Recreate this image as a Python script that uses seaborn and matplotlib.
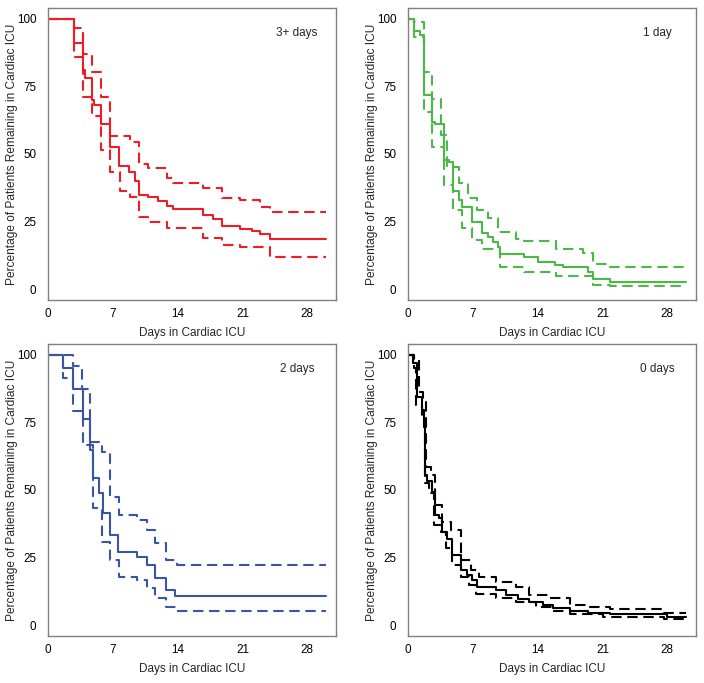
import numpy as np
import pandas as pd
import matplotlib
matplotlib.use("Agg")
import matplotlib.pyplot as plt
import seaborn as sns

# ---------------- data (days, % remaining) ----------------
p1_t_main = [0, 2.85, 3.82, 4.0, 4.72, 5.0, 5.73, 6.7, 7.68, 8.79, 9.41, 9.87, 10.85, 11.86, 12.83, 13.55, 16.79, 17.87, 18.77, 20.76, 22.02, 22.92, 23.93, 30]
p1_v_main = [100, 91, 81, 78, 70, 68, 61, 52.6, 45.5, 43.5, 40, 35, 34, 32.7, 30.9, 29.6, 27.4, 25.9, 23.5, 22.3, 21.6, 20.4, 18.4, 18.4]
p1_t_up = [0, 2.85, 3.82, 4.72, 5.73, 6.7, 8.86, 9.87, 10.85, 12.83, 13.55, 16.79, 18.77, 20.76, 22.92, 23.93, 30]
p1_v_up = [100, 96.8, 87, 80.5, 71, 56.7, 54.6, 46.3, 44.7, 41, 39.4, 37.3, 33.8, 33, 30.5, 28.4, 28.4]
p1_t_lo = [0, 2.85, 3.82, 4.72, 5.73, 6.7, 7.78, 8.86, 9.87, 10.85, 12.83, 16.79, 18.77, 20.76, 23.93, 30]
p1_v_lo = [100, 86, 71, 64, 51.5, 43.5, 36.4, 34, 26.8, 25, 22.5, 19, 16.3, 15.4, 12, 12]

p2_t_main = [0, 0.62, 1.34, 1.7, 2.54, 2.9, 3.88, 4.42, 4.86, 5.51, 5.87, 6.96, 7.97, 8.59, 9.13, 9.67, 9.93, 12.57, 14.02, 15.83, 16.74, 19.46, 20.0, 21.81, 30]
p2_v_main = [100, 95.7, 94, 71.9, 62, 61, 47.8, 47, 36.4, 33, 30.2, 25, 20.9, 19.4, 17.5, 15.7, 13, 11.7, 10.1, 8.9, 8.3, 6.4, 3.6, 2.7, 2.7]
p2_t_up = [0, 0.62, 1.7, 2.61, 3.51, 4.24, 5.51, 6.52, 7.5, 8.59, 9.67, 11.67, 12.57, 16.0, 18.9, 20.0, 21.81, 30]
p2_v_up = [100, 99, 80.5, 70.4, 57, 45.3, 39.1, 33.6, 29.3, 26.2, 21, 18.4, 17.9, 15, 13.2, 9.3, 8, 8]
p2_t_lo = [0, 0.62, 1.7, 2.54, 3.88, 4.86, 5.87, 6.96, 7.97, 9.93, 12.57, 16.0, 20.0, 21.81, 30]
p2_v_lo = [100, 93.5, 65.7, 52.7, 38.5, 29.3, 22.5, 18.1, 15, 8.3, 6.4, 4.8, 1.5, 1.1, 1.1]

p3_t_main = [0, 1.66, 2.67, 3.82, 4.54, 4.9, 5.55, 5.91, 6.7, 7.6, 9.59, 10.67, 11.57, 12.76, 13.73, 30]
p3_v_main = [100, 95.3, 87.3, 76.3, 64.8, 54.3, 48.8, 41.4, 33.3, 27.2, 25.3, 22.2, 17.5, 13, 10.9, 10.9]
p3_t_up = [0, 2.67, 3.64, 4.54, 5.8, 6.7, 7.71, 9.59, 10.67, 11.57, 12.76, 13.9, 30]
p3_v_up = [100, 96, 87.3, 67.9, 64.2, 47.5, 40.7, 38.9, 35.2, 30.2, 24.1, 22.2, 22.2]
p3_t_lo = [0, 1.66, 2.67, 3.82, 4.9, 5.8, 6.7, 7.71, 9.59, 10.67, 11.57, 12.76, 13.9, 30]
p3_v_lo = [100, 91.4, 79.4, 66.7, 43.2, 30.9, 24.1, 17.9, 16.7, 13.6, 9.9, 6.8, 5.3, 5.3]

p4_t_main = [0, 0.51, 0.98, 1.52, 1.7, 1.88, 2.07, 2.61, 2.9, 3.33, 3.7, 4.24, 4.78, 5.69, 6.41, 6.96, 7.5, 9.49, 10.58, 11.85, 13.12, 14.57, 15.65, 17.46, 19.46, 21.81, 27.97, 30]
p4_v_main = [100, 96.9, 84.6, 79.6, 73.5, 55.4, 53.5, 49.4, 40.7, 39.5, 34.6, 32, 25.9, 20.4, 18.5, 16.5, 14.2, 13, 11.1, 9.5, 8.6, 7.4, 6.2, 5.3, 4.6, 4.1, 3.1, 3.1]
p4_t_up = [0, 0.62, 1.16, 1.59, 1.96, 2.43, 2.9, 3.7, 4.6, 5.69, 6.78, 7.68, 9.49, 11.67, 13.12, 15.29, 17.46, 19.46, 21.81, 27.6, 30]
p4_v_up = [100, 98.4, 86.4, 82.7, 58.6, 55.5, 44.4, 38.3, 35.2, 24, 20.4, 17.9, 16, 14.2, 11.1, 9.9, 7.4, 6.8, 5.8, 4.5, 4.5]
p4_t_lo = [0, 0.62, 0.87, 1.52, 1.81, 2.25, 2.79, 3.51, 4.06, 4.78, 5.69, 6.59, 7.32, 9.49, 11.67, 13.84, 15.65, 17.46, 21.09, 27.6, 30]
p4_v_lo = [100, 95, 81.5, 75.9, 52.5, 48.8, 37, 34.6, 28.4, 22.2, 17.7, 14.8, 11.5, 9.9, 8.6, 6.8, 5.3, 4.1, 3.1, 2.1, 2.1]

panel_labels = ["3+ days", "1 day", "2 days", "0 days"]
panel_colors = ["#ee1c24", "#4cb848", "#3a55a6", "#000000"]
x_ticks = [0, 7, 14, 21, 28]
y_ticks = [0, 25, 50, 75, 100]
x_label = "Days in Cardiac ICU"
y_label = "Percentage of Patients Remaining in Cardiac ICU"

panels = [
    (p1_t_main, p1_v_main, p1_t_up, p1_v_up, p1_t_lo, p1_v_lo),
    (p2_t_main, p2_v_main, p2_t_up, p2_v_up, p2_t_lo, p2_v_lo),
    (p3_t_main, p3_v_main, p3_t_up, p3_v_up, p3_t_lo, p3_v_lo),
    (p4_t_main, p4_v_main, p4_t_up, p4_v_up, p4_t_lo, p4_v_lo),
]

# ---------------- figure ----------------
sns.set_style("white")
plt.rcParams["font.family"] = ["Liberation Sans", "DejaVu Sans"]

W, H = 704, 683
fig = plt.figure(figsize=(W / 100, H / 100), dpi=100)

# pixel boxes: left, top, right, bottom
boxes = [(48, 8, 336, 300), (408, 8, 696, 300), (48, 344, 336, 636), (408, 344, 696, 636)]

for i, (box, data) in enumerate(zip(boxes, panels)):
    l, t, r, b = box
    aw, ah = r - l, b - t
    ax = fig.add_axes([l / W, 1 - b / H, aw / W, ah / H])
    tm, vm, tu, vu, tl, vl = data
    col = panel_colors[i]
    df_m = pd.DataFrame({"day": tm, "pct": vm})
    df_u = pd.DataFrame({"day": tu, "pct": vu})
    df_l = pd.DataFrame({"day": tl, "pct": vl})
    for df in (df_u, df_l):
        sns.lineplot(data=df, x="day", y="pct", ax=ax, color=col, lw=1.5,
                     drawstyle="steps-post", linestyle=(0, (5, 2.7)),
                     estimator=None, sort=False)
    sns.lineplot(data=df_m, x="day", y="pct", ax=ax, color=col, lw=1.5,
                 drawstyle="steps-post", estimator=None, sort=False)
    ax.set_xlim(0, 31.1)
    ax.set_ylim(-4.07, 104.07)
    ax.set_xticks(x_ticks)
    ax.set_yticks(y_ticks)
    ax.tick_params(axis="y", direction="out", length=5.8, width=0.8, color="#333333",
                   labelsize=8.4, pad=2.5, labelcolor="black")
    ax.tick_params(axis="x", direction="out", length=3.6, width=0.8, color="#333333",
                   labelsize=8.4, pad=2, labelcolor="black")
    for s in ax.spines.values():
        s.set_color("#808080")
        s.set_linewidth(1.0)
    ax.set_xlabel(x_label, fontsize=8.5)
    ax.xaxis.set_label_coords(0.5, -33 / ah)
    ax.xaxis.label.set_va("center")
    ax.set_ylabel(y_label, fontsize=8.6)
    ax.yaxis.set_label_coords(-36 / aw, 0.5)
    ax.yaxis.label.set_va("center")
    ax.text(26.9, 94.8, panel_labels[i], ha="center", va="center", fontsize=8.5)

fig.savefig("out.png", dpi=100)
